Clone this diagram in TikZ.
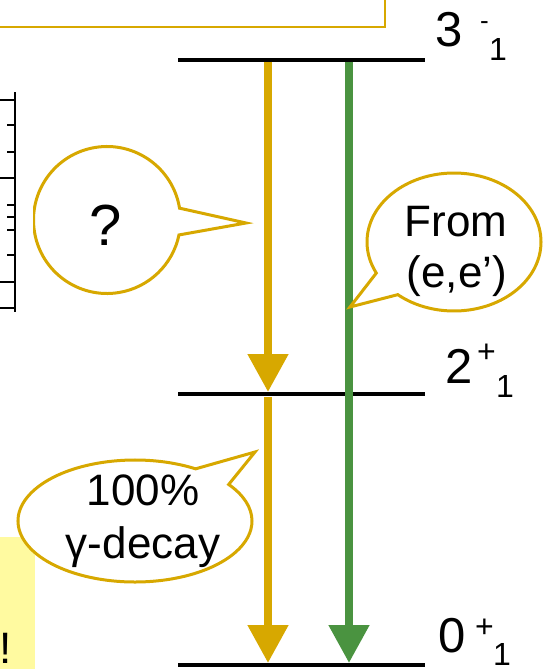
\documentclass[tikz,border=0pt]{standalone}
\usepackage{fontspec}
\setmainfont{Liberation Sans}
\usetikzlibrary{shapes.callouts,arrows.meta}
\definecolor{gold}{RGB}{215,168,0}
\definecolor{dgreen}{RGB}{74,147,64}
\definecolor{paleyellow}{RGB}{255,250,160}
\begin{document}
\begin{tikzpicture}[x=1pt,y=-1pt,
  level/.style={line width=4.5pt},
  trans/.style={line width=8pt,-{Triangle[width=39pt,length=38pt]}},
  bubble/.style={ellipse callout, draw=gold, line width=3pt, fill=white, inner sep=0pt},
  btext/.style={inner sep=0pt, anchor=base, font=\fontsize{44}{53}\selectfont},
  lab/.style={inner sep=0pt, anchor=base west, font=\fontsize{49}{49}\selectfont},
  sup/.style={inner sep=0pt, anchor=base west, font=\fontsize{32}{32}\selectfont}]
\useasboundingbox (0,0) rectangle (544,669);
% top box (cut off)
\draw[gold, line width=2pt] (-5,27) -- (385,27) -- (385,-5);
% pale yellow box
\fill[paleyellow] (0,537) rectangle (35,675);
\node[btext, anchor=base west] (excl) at (-1,663) {!};
% levels
\coordinate (a3) at (178,60);  \coordinate (b3) at (425,60);
\coordinate (a2) at (178,394); \coordinate (b2) at (425,394);
\coordinate (a0) at (178,665); \coordinate (b0) at (425,665);
\draw[level] (a3) -- (b3);
\draw[level] (a2) -- (b2);
\draw[level] (a0) -- (b0);
% labels
\node[lab] (n3) at (435,47) {3};
\node[sup, font=\fontsize{26}{26}\selectfont] (n3s) at (480,30) {-};
\node[sup] (n3i) at (489,60) {1};
\node[lab] (n2) at (445,383) {2};
\node[sup] (n2s) at (477,362) {+};
\node[sup] (n2i) at (496,397) {1};
\node[lab] (n0) at (438,652) {0};
\node[sup] (n0s) at (475,637) {+};
\node[sup] (n0i) at (493,665) {1};
% transitions
\coordinate (y3) at (268,62);  \coordinate (y2t) at (268,392);
\coordinate (y2s) at (268,397); \coordinate (y0) at (268,663);
\coordinate (g3) at (349,62);  \coordinate (g0) at (349,663);
\draw[trans, gold] (y3) -- (y2t);
\draw[trans, gold] (y2s) -- (y0);
\draw[trans, dgreen] (g3) -- (g0);
% bubbles
\coordinate (qt) at (246,223);
\coordinate (ft) at (350,307);
\coordinate (dt) at (255,452);
\node[bubble, minimum width=147pt, minimum height=147pt, callout absolute pointer={(qt)}, callout pointer arc=21] (qb) at (107,220) {};
\node[btext, font=\fontsize{58}{58}\selectfont] (qq) at (106,245) {?};
\node[bubble, minimum width=174pt, minimum height=138pt, callout absolute pointer={(ft)}, callout pointer arc=23] (fb) at (454,242) {};
\node[btext] (f1) at (456,236) {From};
\node[btext] (f2) at (457,287) {(e,e’)};
\node[bubble, minimum width=234pt, minimum height=122pt, callout absolute pointer={(dt)}, callout pointer arc=22] (db) at (135,521) {};
\node[btext] (d1) at (143,505) {100\%};
\node[btext] (d2) at (143,558) {γ-decay};
% axis fragment (covers bubble edge)
\fill[white] (-2,88) rectangle (33,316);
\draw[line width=1.6pt] (15,92) -- (15,312);
\foreach \yy in {100,178,282,308} \draw[line width=1.4pt] (0,\yy) -- (15,\yy);
\foreach \yy in {125,152,205,217,230,255} \draw[line width=1.4pt] (7,\yy) -- (15,\yy);
\end{tikzpicture}
\end{document}
